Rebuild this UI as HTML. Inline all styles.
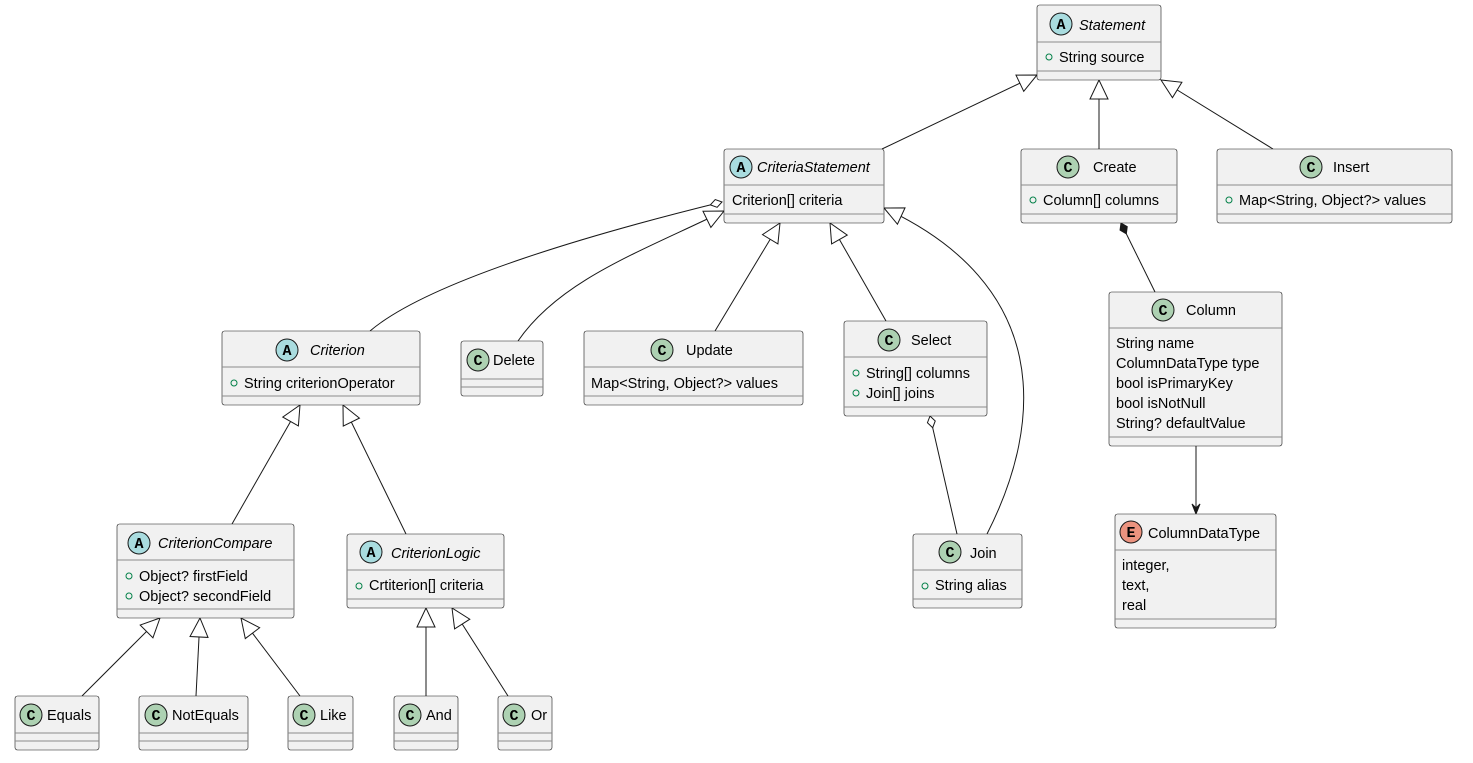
<!DOCTYPE html>
<html><head><meta charset="utf-8"><style>
html,body{margin:0;padding:0;background:#fff;}
svg{display:block;font-family:"Liberation Sans",Arial,sans-serif;}
.b{fill:#F1F1F1;stroke:#181818;stroke-width:0.6;}
.s{stroke:#8a8a8a;stroke-width:1;}
.t{font-size:14.5px;fill:#000;}
.i{font-style:italic;}
.a{font-size:14.5px;fill:#000;}
.v{fill:none;stroke:#038048;stroke-width:1;}
.l{fill:none;stroke:#181818;stroke-width:1;}
.ic{stroke:#181818;stroke-width:1;}
.il{font-family:"Liberation Mono",monospace;font-weight:bold;font-size:15px;fill:#000;text-anchor:middle;}
</style></head><body>
<svg width="1473" height="763" viewBox="0 0 1473 763" xmlns="http://www.w3.org/2000/svg">
<defs>
<marker id="tri" markerUnits="userSpaceOnUse" markerWidth="24" markerHeight="24" viewBox="-22 -12 24 24" refX="0" refY="0" orient="auto"><path d="M0,0 L-19,-9 L-19,9 Z" fill="#fff" stroke="#181818" stroke-width="1"/></marker>
<marker id="dia" markerUnits="userSpaceOnUse" markerWidth="16" markerHeight="12" viewBox="-14 -6 16 12" refX="0" refY="0" orient="auto"><path d="M0,0 L-6,-4 L-12,0 L-6,4 Z" fill="#fff" stroke="#181818" stroke-width="1"/></marker>
<marker id="fdia" markerUnits="userSpaceOnUse" markerWidth="16" markerHeight="12" viewBox="-14 -6 16 12" refX="0" refY="0" orient="auto"><path d="M0,0 L-6,-4 L-12,0 L-6,4 Z" fill="#181818" stroke="#181818" stroke-width="1"/></marker>
<marker id="arr" markerUnits="userSpaceOnUse" markerWidth="14" markerHeight="12" viewBox="-12 -6 14 12" refX="0" refY="0" orient="auto"><path d="M0,0 L-10,-4 L-6,0 L-10,4 Z" fill="#181818" stroke="#181818" stroke-width="1"/></marker>
</defs>

<!-- edges -->
<path class="l" d="M882,149 L1037,75" marker-end="url(#tri)"/>
<path class="l" d="M1099,149 L1099,80" marker-end="url(#tri)"/>
<path class="l" d="M1273,149 L1161,80" marker-end="url(#tri)"/>
<path class="l" d="M370,331 C430,280 600,232 722,202" marker-end="url(#dia)"/>
<path class="l" d="M518,341 C560,280 640,252 724,211" marker-end="url(#tri)"/>
<path class="l" d="M715,331 L780,223" marker-end="url(#tri)"/>
<path class="l" d="M886,321 L830,223" marker-end="url(#tri)"/>
<path class="l" d="M987,534 C1045,420 1050,285 884,208" marker-end="url(#tri)"/>
<path class="l" d="M957,534 L930,416" marker-end="url(#dia)"/>
<path class="l" d="M1155,292 L1121,223" marker-end="url(#fdia)"/>
<path class="l" d="M1196,446 L1196,514" marker-end="url(#arr)"/>
<path class="l" d="M232,524 L300,405" marker-end="url(#tri)"/>
<path class="l" d="M406,534 L343,405" marker-end="url(#tri)"/>
<path class="l" d="M82,696 L160,618" marker-end="url(#tri)"/>
<path class="l" d="M196,696 L200,618" marker-end="url(#tri)"/>
<path class="l" d="M300,696 L241,618" marker-end="url(#tri)"/>
<path class="l" d="M426,696 L426,608" marker-end="url(#tri)"/>
<path class="l" d="M508,696 L452,608" marker-end="url(#tri)"/>

<!-- Statement -->
<rect class="b" x="1037" y="5" width="124" height="75" rx="2.5"/>
<line class="s" x1="1037" y1="42" x2="1161" y2="42"/><line class="s" x1="1037" y1="71" x2="1161" y2="71"/>
<circle class="ic" cx="1061" cy="24" r="11" fill="#A9DCDF"/><text class="il" x="1061" y="29">A</text>
<text class="t i" x="1079" y="30">Statement</text>
<circle class="v" cx="1049" cy="57" r="3"/><text class="a" x="1059" y="62">String source</text>

<!-- CriteriaStatement -->
<rect class="b" x="724" y="149" width="160" height="74" rx="2.5"/>
<line class="s" x1="724" y1="185" x2="884" y2="185"/><line class="s" x1="724" y1="214" x2="884" y2="214"/>
<circle class="ic" cx="741" cy="167" r="11" fill="#A9DCDF"/><text class="il" x="741" y="172">A</text>
<text class="t i" x="757" y="172">CriteriaStatement</text>
<text class="a" x="732" y="205">Criterion[] criteria</text>

<!-- Create -->
<rect class="b" x="1021" y="149" width="156" height="74" rx="2.5"/>
<line class="s" x1="1021" y1="185" x2="1177" y2="185"/><line class="s" x1="1021" y1="214" x2="1177" y2="214"/>
<circle class="ic" cx="1068" cy="167" r="11" fill="#ADD1B2"/><text class="il" x="1068" y="172">C</text>
<text class="t" x="1093" y="172">Create</text>
<circle class="v" cx="1033" cy="200" r="3"/><text class="a" x="1043" y="205">Column[] columns</text>

<!-- Insert -->
<rect class="b" x="1217" y="149" width="235" height="74" rx="2.5"/>
<line class="s" x1="1217" y1="185" x2="1452" y2="185"/><line class="s" x1="1217" y1="214" x2="1452" y2="214"/>
<circle class="ic" cx="1311" cy="167" r="11" fill="#ADD1B2"/><text class="il" x="1311" y="172">C</text>
<text class="t" x="1333" y="172">Insert</text>
<circle class="v" cx="1229" cy="200" r="3"/><text class="a" x="1239" y="205">Map&lt;String, Object?&gt; values</text>

<!-- Criterion -->
<rect class="b" x="222" y="331" width="198" height="74" rx="2.5"/>
<line class="s" x1="222" y1="367" x2="420" y2="367"/><line class="s" x1="222" y1="396" x2="420" y2="396"/>
<circle class="ic" cx="287" cy="350" r="11" fill="#A9DCDF"/><text class="il" x="287" y="355">A</text>
<text class="t i" x="310" y="355">Criterion</text>
<circle class="v" cx="234" cy="383" r="3"/><text class="a" x="244" y="388">String criterionOperator</text>

<!-- Delete -->
<rect class="b" x="461" y="341" width="82" height="55" rx="2.5"/>
<line class="s" x1="461" y1="379" x2="543" y2="379"/><line class="s" x1="461" y1="387" x2="543" y2="387"/>
<circle class="ic" cx="478" cy="360" r="11" fill="#ADD1B2"/><text class="il" x="478" y="365">C</text>
<text class="t" x="493" y="365">Delete</text>

<!-- Update -->
<rect class="b" x="584" y="331" width="219" height="74" rx="2.5"/>
<line class="s" x1="584" y1="367" x2="803" y2="367"/><line class="s" x1="584" y1="396" x2="803" y2="396"/>
<circle class="ic" cx="662" cy="350" r="11" fill="#ADD1B2"/><text class="il" x="662" y="355">C</text>
<text class="t" x="686" y="355">Update</text>
<text class="a" x="591" y="388">Map&lt;String, Object?&gt; values</text>

<!-- Select -->
<rect class="b" x="844" y="321" width="143" height="95" rx="2.5"/>
<line class="s" x1="844" y1="357" x2="987" y2="357"/><line class="s" x1="844" y1="407" x2="987" y2="407"/>
<circle class="ic" cx="889" cy="340" r="11" fill="#ADD1B2"/><text class="il" x="889" y="345">C</text>
<text class="t" x="911" y="345">Select</text>
<circle class="v" cx="856" cy="373" r="3"/><text class="a" x="866" y="378">String[] columns</text>
<circle class="v" cx="856" cy="393" r="3"/><text class="a" x="866" y="398">Join[] joins</text>

<!-- Column -->
<rect class="b" x="1109" y="292" width="173" height="154" rx="2.5"/>
<line class="s" x1="1109" y1="328" x2="1282" y2="328"/><line class="s" x1="1109" y1="437" x2="1282" y2="437"/>
<circle class="ic" cx="1163" cy="310" r="11" fill="#ADD1B2"/><text class="il" x="1163" y="315">C</text>
<text class="t" x="1186" y="315">Column</text>
<text class="a" x="1116" y="348">String name</text>
<text class="a" x="1116" y="368">ColumnDataType type</text>
<text class="a" x="1116" y="388">bool isPrimaryKey</text>
<text class="a" x="1116" y="408">bool isNotNull</text>
<text class="a" x="1116" y="428">String? defaultValue</text>

<!-- CriterionCompare -->
<rect class="b" x="117" y="524" width="177" height="94" rx="2.5"/>
<line class="s" x1="117" y1="560" x2="294" y2="560"/><line class="s" x1="117" y1="609" x2="294" y2="609"/>
<circle class="ic" cx="139" cy="543" r="11" fill="#A9DCDF"/><text class="il" x="139" y="548">A</text>
<text class="t i" x="158" y="548">CriterionCompare</text>
<circle class="v" cx="129" cy="576" r="3"/><text class="a" x="139" y="581">Object? firstField</text>
<circle class="v" cx="129" cy="596" r="3"/><text class="a" x="139" y="601">Object? secondField</text>

<!-- CriterionLogic -->
<rect class="b" x="347" y="534" width="157" height="74" rx="2.5"/>
<line class="s" x1="347" y1="570" x2="504" y2="570"/><line class="s" x1="347" y1="599" x2="504" y2="599"/>
<circle class="ic" cx="371" cy="552" r="11" fill="#A9DCDF"/><text class="il" x="371" y="557">A</text>
<text class="t i" x="391" y="558">CriterionLogic</text>
<circle class="v" cx="359" cy="586" r="3"/><text class="a" x="369" y="590">Crtiterion[] criteria</text>

<!-- Join -->
<rect class="b" x="913" y="534" width="109" height="74" rx="2.5"/>
<line class="s" x1="913" y1="570" x2="1022" y2="570"/><line class="s" x1="913" y1="599" x2="1022" y2="599"/>
<circle class="ic" cx="950" cy="552" r="11" fill="#ADD1B2"/><text class="il" x="950" y="557">C</text>
<text class="t" x="970" y="558">Join</text>
<circle class="v" cx="925" cy="586" r="3"/><text class="a" x="935" y="590">String alias</text>

<!-- ColumnDataType -->
<rect class="b" x="1115" y="514" width="161" height="114" rx="2.5"/>
<line class="s" x1="1115" y1="550" x2="1276" y2="550"/><line class="s" x1="1115" y1="619" x2="1276" y2="619"/>
<circle class="ic" cx="1131" cy="532" r="11" fill="#EB937F"/><text class="il" x="1131" y="537">E</text>
<text class="t" x="1148" y="538">ColumnDataType</text>
<text class="a" x="1122" y="570">integer,</text>
<text class="a" x="1122" y="590">text,</text>
<text class="a" x="1122" y="610">real</text>

<!-- leaf classes -->
<rect class="b" x="15" y="696" width="84" height="54" rx="2.5"/>
<line class="s" x1="15" y1="733" x2="99" y2="733"/><line class="s" x1="15" y1="741" x2="99" y2="741"/>
<circle class="ic" cx="31" cy="715" r="11" fill="#ADD1B2"/><text class="il" x="31" y="720">C</text>
<text class="t" x="47" y="720">Equals</text>

<rect class="b" x="139" y="696" width="109" height="54" rx="2.5"/>
<line class="s" x1="139" y1="733" x2="248" y2="733"/><line class="s" x1="139" y1="741" x2="248" y2="741"/>
<circle class="ic" cx="156" cy="715" r="11" fill="#ADD1B2"/><text class="il" x="156" y="720">C</text>
<text class="t" x="172" y="720">NotEquals</text>

<rect class="b" x="288" y="696" width="65" height="54" rx="2.5"/>
<line class="s" x1="288" y1="733" x2="353" y2="733"/><line class="s" x1="288" y1="741" x2="353" y2="741"/>
<circle class="ic" cx="304" cy="715" r="11" fill="#ADD1B2"/><text class="il" x="304" y="720">C</text>
<text class="t" x="320" y="720">Like</text>

<rect class="b" x="394" y="696" width="64" height="54" rx="2.5"/>
<line class="s" x1="394" y1="733" x2="458" y2="733"/><line class="s" x1="394" y1="741" x2="458" y2="741"/>
<circle class="ic" cx="410" cy="715" r="11" fill="#ADD1B2"/><text class="il" x="410" y="720">C</text>
<text class="t" x="426" y="720">And</text>

<rect class="b" x="498" y="696" width="54" height="54" rx="2.5"/>
<line class="s" x1="498" y1="733" x2="552" y2="733"/><line class="s" x1="498" y1="741" x2="552" y2="741"/>
<circle class="ic" cx="514" cy="715" r="11" fill="#ADD1B2"/><text class="il" x="514" y="720">C</text>
<text class="t" x="531" y="720">Or</text>
</svg>
</body></html>
